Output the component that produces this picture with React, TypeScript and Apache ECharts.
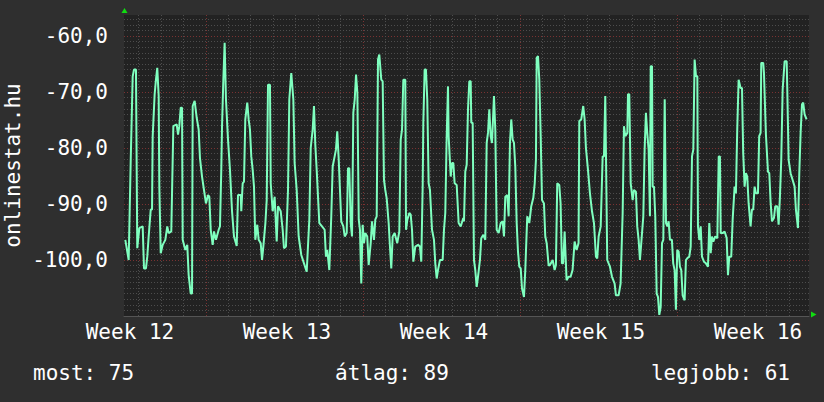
import React, { useEffect, useRef } from 'react';
import * as echarts from 'echarts';

// time in hours from the left edge of the graph, signal in dBm
const hours = [
  1.4, 5.0, 7.2, 9.3, 10.7, 12.8, 14.2, 16.4, 20.0, 21.4, 23.5, 24.9, 26.4, 28.6, 30.0, 30.7, 32.8, 34.2, 35.6, 37.1,
  37.8, 39.3, 41.4, 44.2, 46.3, 47.8, 50.6, 52.8, 56.4, 57.8, 59.2, 60.7, 62.1, 62.8, 65.6, 67.7, 69.2, 71.4, 72.8, 73.5,
  75.6, 77.8, 79.9, 81.3, 83.5, 85.6, 87.7, 89.9, 91.3, 92.8, 94.9, 96.3, 98.4, 101.3, 102.7, 104.1, 104.9, 106.3, 107.7, 109.1,
  111.3, 113.4, 115.6, 117.7, 120.6, 122.0,
  124.9, 125.5, 127.0, 128.4, 129.8, 131.9, 133.4, 134.8, 136.2, 137.7, 139.1, 140.5, 142.6, 144.1, 146.3, 147.7, 149.1, 151.3,
  152.7, 154.1, 156.2, 157.0, 159.1, 161.2, 163.4, 164.8, 167.7, 169.8, 171.2, 173.3, 175.5, 176.9, 179.0, 181.2, 182.6, 184.8,
  186.9, 189.7, 192.6, 195.5, 198.3, 199.8, 201.9, 203.3, 204.7, 206.2, 207.6, 209.0, 211.9, 214.7, 216.1, 217.5, 219.7, 221.8,
  223.3, 225.4, 226.8, 228.2, 229.7, 231.1, 232.5, 234.7, 236.2, 238.3, 239.7, 241.1, 242.6, 244.0,
  245.4, 246.9, 248.3, 249.7, 251.2, 252.5, 253.9, 255.4, 256.8, 258.2, 260.3, 261.8, 264.0, 265.4, 267.5, 268.9, 270.4, 271.8,
  273.2, 275.3, 276.8, 278.2, 279.6, 281.1, 283.2, 284.6, 286.0, 287.5, 289.6, 292.4, 294.6, 296.1, 297.5, 298.9, 301.0, 301.8,
  303.2, 305.3, 306.8, 308.2, 309.6, 311.7, 314.6, 316.7, 318.1, 319.6, 320.3, 321.7, 323.1, 324.5, 326.0, 327.4, 329.6, 331.7,
  333.1, 334.6, 336.0, 338.1, 341.0, 342.4, 343.8, 345.3, 346.7, 347.4, 349.6, 351.0, 352.4, 353.8, 356.0, 358.1, 360.3, 363.1,
  363.8, 365.2, 366.7, 368.1, 369.5, 371.0, 371.6, 373.1, 374.5, 375.9, 377.4, 378.8, 380.9, 382.3, 384.5, 386.6, 388.1, 389.5,
  390.9, 392.4, 393.8, 395.9, 397.3, 398.8, 400.9, 403.1, 405.2, 406.6, 408.0, 410.1, 411.6, 413.0, 414.4, 415.9, 417.3, 418.7,
  420.2, 421.6, 423.0, 424.5, 425.9, 428.0, 429.4, 431.5, 433.7, 435.8, 438.0, 439.5, 440.8, 441.6, 443.0, 444.4, 445.9, 447.3,
  449.4, 450.8, 452.3, 454.4, 455.8, 458.7, 460.8, 462.2, 463.6, 465.8, 467.2, 468.6, 470.0, 471.5, 473.6, 475.7, 477.9, 480.0,
  482.2, 484.3, 486.4,
  487.2, 489.3, 491.4, 492.9, 494.3, 496.5, 498.6, 500.8, 502.9, 505.0, 506.4, 507.9, 510.1, 512.2, 513.6, 515.0, 515.7, 517.1,
  520.0, 522.2, 525.0, 526.4, 529.3, 531.4, 533.6, 535.0, 536.4, 538.6, 539.3, 540.7, 542.2, 544.3, 545.7, 547.8, 549.2, 550.7,
  552.1, 553.5, 555.7, 557.1, 558.5, 559.9, 561.4, 562.8, 563.6, 565.0, 565.7, 567.1, 568.5, 570.0, 571.4, 572.8, 574.3, 575.7,
  577.1, 578.6, 580.0, 581.4, 582.8, 584.2, 586.3, 587.7, 589.2, 590.6, 592.0, 593.5, 594.9, 596.3, 597.8, 599.9, 601.3, 602.7,
  604.9, 606.4, 607.8,
  609.2, 610.6, 612.1, 613.5, 614.2, 615.6, 617.1, 618.5, 620.6, 622.7, 624.9, 626.3, 627.8, 629.2, 630.6, 632.7, 634.9, 636.4,
  637.7, 638.5, 640.6, 642.7, 644.9, 646.3, 647.7, 649.8, 651.3, 653.4, 654.8, 656.2, 657.7, 659.8, 661.3, 662.6, 664.1, 665.5,
  666.9, 668.4, 670.5, 671.9, 673.3, 674.8, 676.2, 678.4, 679.7, 681.2, 681.9, 684.0, 684.8, 686.9, 689.1, 690.5, 692.0, 693.4,
  695.5, 696.9, 699.0, 700.5, 701.9, 703.3, 704.8, 706.9, 709.1, 709.7, 711.2, 713.3, 715.5, 717.6, 719.0, 721.2, 722.6, 724.1,
  725.5, 726.8, 728.3, 730.4,
];

const signal = [
  -96.4, -100.0, -82.1, -67.2, -66.0, -66.0, -97.9, -94.3, -94.0, -101.5, -101.5, -99.4, -95.8, -91.0, -91.0, -77.9, -70.4, -67.8, -65.7, -70.7,
  -86.9, -98.8, -97.3, -96.4, -94.0, -95.2, -94.9, -76.1, -75.8, -77.6, -76.1, -72.8, -72.8, -96.4, -98.2, -97.3, -102.7, -106.0, -106.0, -72.5,
  -71.6, -74.6, -76.7, -81.8, -85.1, -87.5, -89.9, -88.4, -88.7, -94.6, -97.3, -94.9, -96.4, -94.6, -94.0, -83.9, -76.1, -67.8, -61.2, -71.3,
  -78.5, -83.9, -91.3, -95.8, -97.5, -88.4,
  -88.4, -91.3, -86.3, -86.0, -74.9, -71.9, -74.9, -76.7, -81.5, -83.9, -86.9, -96.4, -93.7, -96.4, -97.0, -100.0, -97.6, -93.4,
  -89.3, -68.7, -68.7, -86.3, -91.3, -88.7, -96.7, -90.4, -91.3, -94.6, -97.9, -97.6, -87.5, -71.3, -66.6, -71.3, -82.7, -87.5,
  -95.8, -99.1, -100.6, -102.1, -92.8, -80.0, -76.7, -72.5, -79.4, -83.9, -88.7, -93.4, -94.0, -94.6, -99.4, -98.2, -101.8, -92.2,
  -83.3, -81.5, -80.3, -77.0, -81.8, -87.5, -93.1, -94.0, -95.8, -95.2, -83.6, -83.6, -93.4, -95.8,
  -73.7, -71.3, -66.9, -70.1, -92.8, -94.6, -104.2, -93.7, -97.0, -95.2, -95.8, -100.9, -97.0, -93.1, -96.4, -92.8, -92.2, -64.2,
  -63.3, -67.8, -68.1, -85.7, -87.5, -89.0, -93.4, -97.6, -101.5, -95.8, -95.2, -97.0, -94.9, -78.5, -76.7, -67.8, -67.8, -94.6,
  -92.8, -91.6, -91.9, -94.6, -100.3, -97.6, -97.3, -97.6, -100.3, -86.9, -75.5, -66.0, -66.0, -71.3, -86.3, -87.5, -94.6, -96.4,
  -100.6, -103.3, -101.8, -100.0, -100.0, -94.6, -91.6, -77.9, -69.0, -77.9, -85.1, -82.7, -82.7, -86.3, -86.6, -93.4, -94.0, -92.5,
  -93.1, -84.2, -83.0, -73.1, -68.1, -68.1, -75.5, -75.5, -100.0, -101.8, -104.8, -103.0, -100.0, -96.1, -95.5, -96.4, -79.1, -77.3,
  -73.1, -77.9, -79.1, -70.7, -76.7, -94.6, -95.2, -93.4, -93.1, -95.8, -88.7, -88.4, -92.2, -79.1, -74.9, -78.5, -79.1, -83.3,
  -93.4, -98.5, -101.2, -101.5, -105.1, -106.6, -101.8, -92.2, -93.4, -90.4, -88.9, -86.3, -82.1, -63.9, -63.6, -67.8, -77.9, -89.3,
  -89.9, -95.8, -97.0, -101.0, -100.9, -100.0, -101.8, -100.9, -86.3, -86.6, -89.9, -100.6, -100.6, -94.9, -103.6, -103.0, -103.0, -101.8,
  -96.7, -98.2, -97.0,
  -75.2, -74.9, -72.5, -74.9, -80.0, -83.9, -88.1, -91.3, -93.4, -99.4, -99.7, -95.8, -94.0, -81.5, -81.5, -70.7, -70.7, -100.0,
  -101.2, -103.0, -104.2, -106.3, -106.3, -104.2, -91.6, -76.1, -77.9, -77.3, -70.4, -70.4, -86.3, -89.3, -87.5, -87.8, -94.0, -96.4,
  -100.0, -97.0, -92.2, -80.3, -73.7, -77.3, -80.3, -92.2, -65.4, -65.4, -86.9, -86.9, -92.2, -106.0, -106.6, -109.8, -108.4, -97.0,
  -96.4, -71.3, -93.4, -94.0, -93.1, -96.4, -96.4, -100.6, -101.8, -108.9, -98.2, -98.5, -101.2, -101.8, -106.3, -107.2, -100.0, -99.7,
  -99.4, -97.6, -81.5,
  -80.3, -64.2, -67.2, -67.2, -94.0, -96.4, -94.0, -99.4, -100.3, -100.6, -101.2, -93.4, -98.8, -95.8, -96.7, -95.8, -96.1, -81.5,
  -81.5, -95.2, -95.2, -94.9, -96.1, -102.7, -99.4, -99.4, -92.8, -86.9, -88.1, -76.7, -67.8, -69.3, -69.3, -80.9, -86.9, -84.5,
  -85.1, -89.9, -94.0, -91.0, -91.0, -86.9, -88.1, -88.1, -77.9, -77.3, -64.8, -64.8, -66.6, -77.6, -84.2, -84.5, -89.9, -93.1,
  -92.5, -90.4, -90.4, -93.7, -88.7, -82.1, -69.6, -64.5, -64.5, -69.0, -82.1, -84.5, -85.7, -86.9, -91.0, -94.3, -84.5, -77.0,
  -72.2, -71.9, -74.0, -74.9,
];

const weekLabels = ['Week 12', 'Week 13', 'Week 14', 'Week 15', 'Week 16'];
const weekLabelHours = [6.4, 174.4, 342.4, 510.4, 678.4];
const firstMidnightHour = 15.6;
const firstWeekLineHour = 87.6;
const spanHours = 733;
const yMin = -110;
const yMax = -56.25;
const yAxisTitle = 'onlinestat.hu';
const statNames = ['most', 'átlag', 'legjobb'];
const statValues = [75, 89, 61];

const FONT = '"DejaVu Sans Mono", monospace';
const GRAY = '#4d4d4d';
const RED = '#7a3232';

export default function App() {
  const ref = useRef<HTMLDivElement>(null);

  useEffect(() => {
    if (!ref.current) return;
    const chart = echarts.init(ref.current, undefined, { renderer: 'svg' });

    const dayLines: number[] = [];
    const weekLines: number[] = [];
    for (let h = firstMidnightHour; h < spanHours; h += 24) {
      const d = Math.abs(((h - firstWeekLineHour) % 168 + 168) % 168);
      if (d < 0.01 || Math.abs(d - 168) < 0.01) weekLines.push(h);
      else dayLines.push(h);
    }

    const statAligns = ['left', 'center', 'right'];
    const statX = [33, 392, 790];

    chart.setOption({
      animation: false,
      backgroundColor: '#2f2f2f',
      grid: {
        left: 124,
        top: 15,
        right: 15,
        bottom: 86,
        show: true,
        backgroundColor: '#222222',
        borderWidth: 0,
      },
      xAxis: {
        type: 'value',
        min: 0,
        max: spanHours,
        axisLine: { show: true, lineStyle: { color: '#555555', width: 1 } },
        axisTick: { show: false },
        splitLine: { show: false },
        axisLabel: {
          customValues: weekLabelHours,
          color: '#ffffff',
          fontFamily: FONT,
          fontSize: 21,
          margin: 5,
          formatter: (v: number) => {
            let best = 0;
            for (let i = 0; i < weekLabelHours.length; i++) {
              if (Math.abs(weekLabelHours[i] - v) < Math.abs(weekLabelHours[best] - v)) best = i;
            }
            return weekLabels[best];
          },
        },
      },
      yAxis: [
        {
          type: 'value',
          min: yMin,
          max: yMax,
          interval: 1,
          axisLine: { show: false },
          axisTick: { show: false },
          splitLine: {
            show: true,
            showMaxLine: false,
            lineStyle: { color: GRAY, type: [1, 2], width: 1 },
          },
          axisLabel: {
            color: '#ffffff',
            fontFamily: FONT,
            fontSize: 21,
            margin: 16,
            formatter: (v: number) =>
              v > yMin && Math.abs(v % 10) < 1e-6 ? v.toFixed(1).replace('.', ',') : '',
          },
        },
        {
          type: 'value',
          min: yMin,
          max: yMax,
          interval: 10,
          position: 'left',
          axisLine: { show: false },
          axisTick: { show: false },
          axisLabel: { show: false },
          splitLine: {
            show: true,
            showMaxLine: false,
            showMinLine: false,
            lineStyle: { color: RED, type: [1, 2], width: 1 },
          },
        },
      ],
      series: [
        {
          type: 'line',
          data: [],
          z: 1,
          silent: true,
          markLine: {
            silent: true,
            symbol: 'none',
            label: { show: false },
            animation: false,
            lineStyle: { color: GRAY, type: [1, 2], width: 1 },
            data: dayLines.map((h) => ({ xAxis: h })),
          },
        },
        {
          type: 'line',
          data: [],
          z: 2,
          silent: true,
          markLine: {
            silent: true,
            symbol: 'none',
            label: { show: false },
            animation: false,
            lineStyle: { color: RED, type: [1, 2], width: 1 },
            data: weekLines.map((h) => ({ xAxis: h })),
          },
        },
        {
          type: 'line',
          z: 5,
          data: hours.map((h, i) => [h, signal[i]]),
          showSymbol: false,
          clip: true,
          lineStyle: { color: '#7fffbf', width: 2 },
          itemStyle: { color: '#7fffbf' },
        },
      ],
      graphic: [
        {
          type: 'text',
          x: 13,
          y: 165.5,
          rotation: Math.PI / 2,
          style: {
            text: yAxisTitle,
            fill: '#ffffff',
            fontFamily: FONT,
            fontSize: 21,
            align: 'center',
            verticalAlign: 'middle',
          },
        },
        ...statNames.map((n, i) => ({
          type: 'text',
          x: statX[i],
          y: 373,
          style: {
            text: `${n}: ${statValues[i]}`,
            fill: '#ffffff',
            fontFamily: FONT,
            fontSize: 21,
            align: statAligns[i],
            verticalAlign: 'middle',
          },
        })),
        {
          type: 'polygon',
          shape: { points: [[121.5, 13], [127.5, 13], [124.5, 8]] },
          style: { fill: '#11dd11' },
        },
        {
          type: 'polygon',
          shape: { points: [[811, 311.5], [811, 317.5], [816.5, 314.5]] },
          style: { fill: '#11dd11' },
        },
      ],
    });

    return () => chart.dispose();
  }, []);

  return (
    <div
      ref={ref}
      style={{ position: 'fixed', left: 0, top: 0, width: 824, height: 402, background: '#2f2f2f' }}
    />
  );
}
